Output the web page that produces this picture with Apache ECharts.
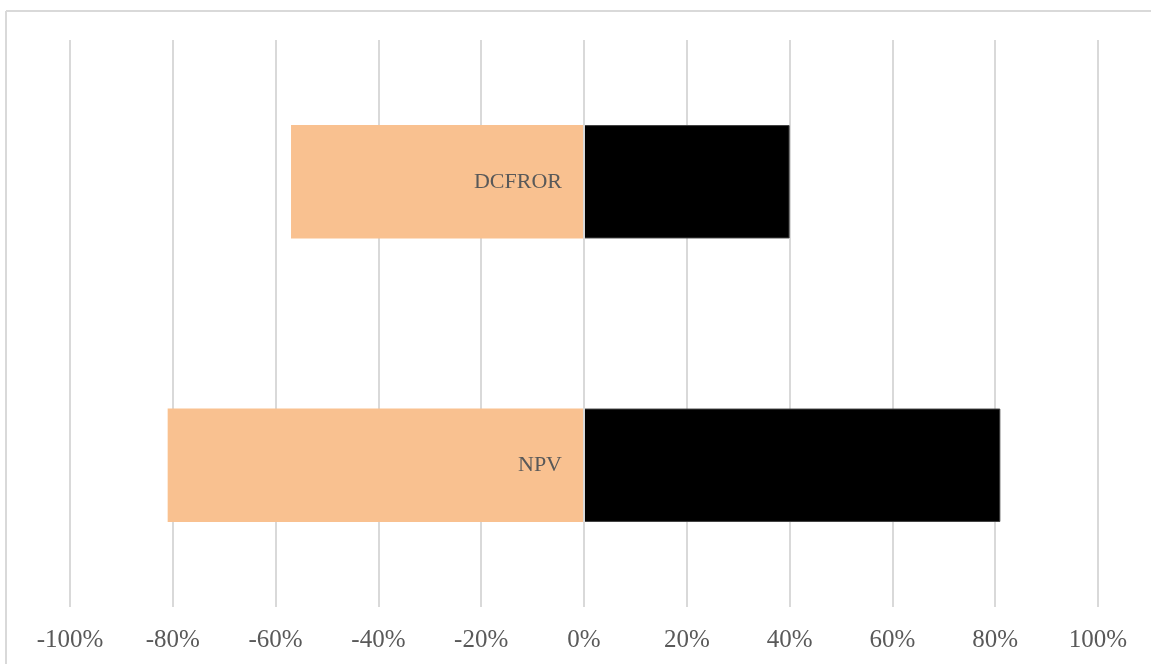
<!DOCTYPE html>
<html>
<head>
<meta charset="utf-8">
<style>
  html, body { margin: 0; padding: 0; background: #ffffff; }
  #chart { width: 1151px; height: 664px; }
</style>
<script src="https://cdn.jsdelivr.net/npm/echarts@6/dist/echarts.min.js"></script>
</head>
<body>
<div id="chart"></div>
<script>
// Sensitivity ranges per indicator (fraction of base case)
const categories = ['NPV', 'DCFROR'];
const lowValues = [-0.81, -0.57];
const highValues = [0.81, 0.40];
const tickMin = -1;
const tickMax = 1;
const tickStep = 0.2;

const chart = echarts.init(document.getElementById('chart'));
const labelFont = '"Liberation Serif", "DejaVu Serif", serif';
const gridColor = '#d9d9d9';

chart.setOption({
  animation: false,
  backgroundColor: '#ffffff',
  grid: { left: 70, right: 53, top: 40, bottom: 57, containLabel: false, outerBoundsMode: 'none' },
  xAxis: {
    type: 'value',
    min: tickMin,
    max: tickMax,
    interval: tickStep,
    axisLine: { show: false },
    axisTick: { show: false },
    splitLine: { show: true, lineStyle: { color: gridColor, width: 2 } },
    axisLabel: {
      color: '#595959',
      fontFamily: labelFont,
      fontSize: 25,
      margin: 21,
      formatter: v => Math.round(v * 100) + '%'
    }
  },
  yAxis: {
    type: 'category',
    data: categories,
    axisLine: { show: false },
    axisTick: { show: false },
    splitLine: { show: false },
    axisLabel: { show: false }
  },
  series: [
    {
      name: 'Low',
      type: 'bar',
      stack: 'range',
      barWidth: '40%',
      data: lowValues,
      itemStyle: { color: '#f9c190' },
      // category name sits inside the low bar, just left of the zero line
      label: {
        show: true,
        position: 'insideRight',
        distance: 22,
        formatter: '{b}',
        color: '#595959',
        fontFamily: labelFont,
        fontSize: 22
      }
    },
    {
      name: 'High',
      type: 'bar',
      stack: 'range',
      barWidth: '40%',
      data: highValues,
      itemStyle: { color: '#000000', borderColor: '#404040', borderWidth: 1 },
      // zero line drawn over the bars
      markLine: {
        silent: true,
        symbol: 'none',
        label: { show: false },
        lineStyle: { color: gridColor, width: 2, type: 'solid' },
        data: [{ xAxis: 0 }]
      }
    }
  ],
  graphic: [
    { type: 'line', shape: { x1: 6, y1: 11, x2: 1151, y2: 11 }, style: { stroke: gridColor, lineWidth: 2 } },
    { type: 'line', shape: { x1: 6, y1: 11, x2: 6, y2: 664 }, style: { stroke: gridColor, lineWidth: 2 } }
  ]
});
</script>
</body>
</html>
